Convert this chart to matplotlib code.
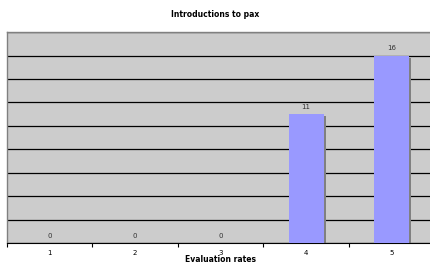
import matplotlib.pyplot as plt
import numpy as np

# 数据
rates = ['1', '2', '3', '4', '5']
counts = [0, 0, 0, 11, 16]

fig = plt.figure(figsize=(4.31, 2.65), dpi=100)
ax = fig.add_axes([0.016, 0.083, 0.992, 0.796])
ax.set_facecolor('#CCCCCC')

x = np.arange(1, len(rates) + 1)
w = 0.41
# 阴影
ax.bar(x + 0.025, np.maximum(np.array(counts) - 0.2, 0), width=w, color='#808080', zorder=2)
ax.bar(x, counts, width=w, color='#9999FF', zorder=3)

for xi, c in zip(x, counts):
    ax.text(xi, c + 0.35, str(c), ha='center', va='bottom', fontsize=5, color='#333333', zorder=4)

ax.set_xlim(0.5, 5.5)
ax.set_ylim(0, 18)
ax.set_yticks(np.arange(0, 19, 2))
ax.yaxis.grid(True, color='black', linewidth=0.9, zorder=1)
ax.set_axisbelow(True)
ax.tick_params(axis='y', left=False, labelleft=False)

ax.set_xticks(x)
ax.set_xticklabels(rates, fontsize=5)
ax.set_xticks(np.arange(0.5, 5.6, 1), minor=True)
ax.tick_params(axis='x', which='major', length=0, pad=5)
ax.tick_params(axis='x', which='minor', length=3, width=0.8, direction='out')

for s in ['top', 'left', 'right']:
    ax.spines[s].set_color('#808080')
    ax.spines[s].set_linewidth(1.0)
ax.spines['bottom'].set_color('black')

ax.set_xlabel('Evaluation rates', fontsize=5.5, fontweight='bold', labelpad=-1)
fig.text(0.5, 0.945, 'Introductions to pax', ha='center', va='center', fontsize=5.5, fontweight='bold')

fig.savefig('out.png', dpi=100)
